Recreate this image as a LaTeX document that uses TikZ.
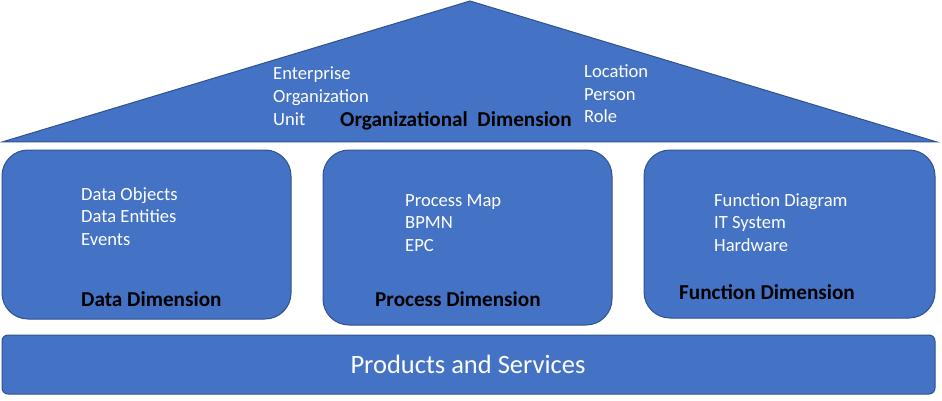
\documentclass[tikz,border=0pt]{standalone}
\usepackage{fontspec}
\setmainfont{Carlito}
\definecolor{boxfill}{HTML}{4472C4}
\definecolor{boxline}{HTML}{2F528F}
\begin{document}
\begin{tikzpicture}[x=1pt,y=-1pt,
  panel/.style={fill=boxfill,draw=boxline,line width=1pt},
  item/.style={anchor=base west,inner sep=0pt,text=white,font=\fontsize{18.6}{22}\selectfont},
  dimlabel/.style={anchor=base west,inner sep=0pt,text=black,font=\fontsize{21.2}{25}\selectfont\bfseries},
  big/.style={anchor=base,inner sep=0pt,text=white,font=\fontsize{26.5}{30}\selectfont}]
\useasboundingbox (0,0) rectangle (942,401);
% roof
\draw[panel] (2,142) -- (470,1) -- (937,142) -- cycle;
% boxes
\draw[panel,rounded corners=26pt] (2,150) rectangle (291,319);
\draw[panel,rounded corners=26pt] (323,150) rectangle (612,325);
\draw[panel,rounded corners=26pt] (644,150) rectangle (935,318);
\draw[panel,rounded corners=6pt] (2,335) rectangle (935,394);
% roof text
\node[item] (e1) at (273,80) {Enterprise};
\node[item] (e2) at (273,103) {Organization};
\node[item] (e3) at (273,125) {Unit};
\node[item] (l1) at (584,78) {Location};
\node[item] (l2) at (584,101) {Person};
\node[item] (l3) at (584,123) {Role};
\node[dimlabel] (od) at (340,127) {Organizational\ \ Dimension};
% data
\node[item] (d1) at (81,200) {Data Objects};
\node[item] (d2) at (81,222) {Data Entities};
\node[item] (d3) at (81,245) {Events};
\node[dimlabel] (dd) at (81,306) {Data Dimension};
% process
\node[item] (p1) at (405,206) {Process Map};
\node[item] (p2) at (405,228) {BPMN};
\node[item] (p3) at (405,251) {EPC};
\node[dimlabel] (pd) at (375,306) {Process Dimension};
% function
\node[item] (f1) at (714,206) {Function Diagram};
\node[item] (f2) at (714,228) {IT System};
\node[item] (f3) at (714,251) {Hardware};
\node[dimlabel] (fd) at (679,299) {Function Dimension};
% bottom
\node[big] (ps) at (468,373) {Products and Services};
\end{tikzpicture}
\end{document}
